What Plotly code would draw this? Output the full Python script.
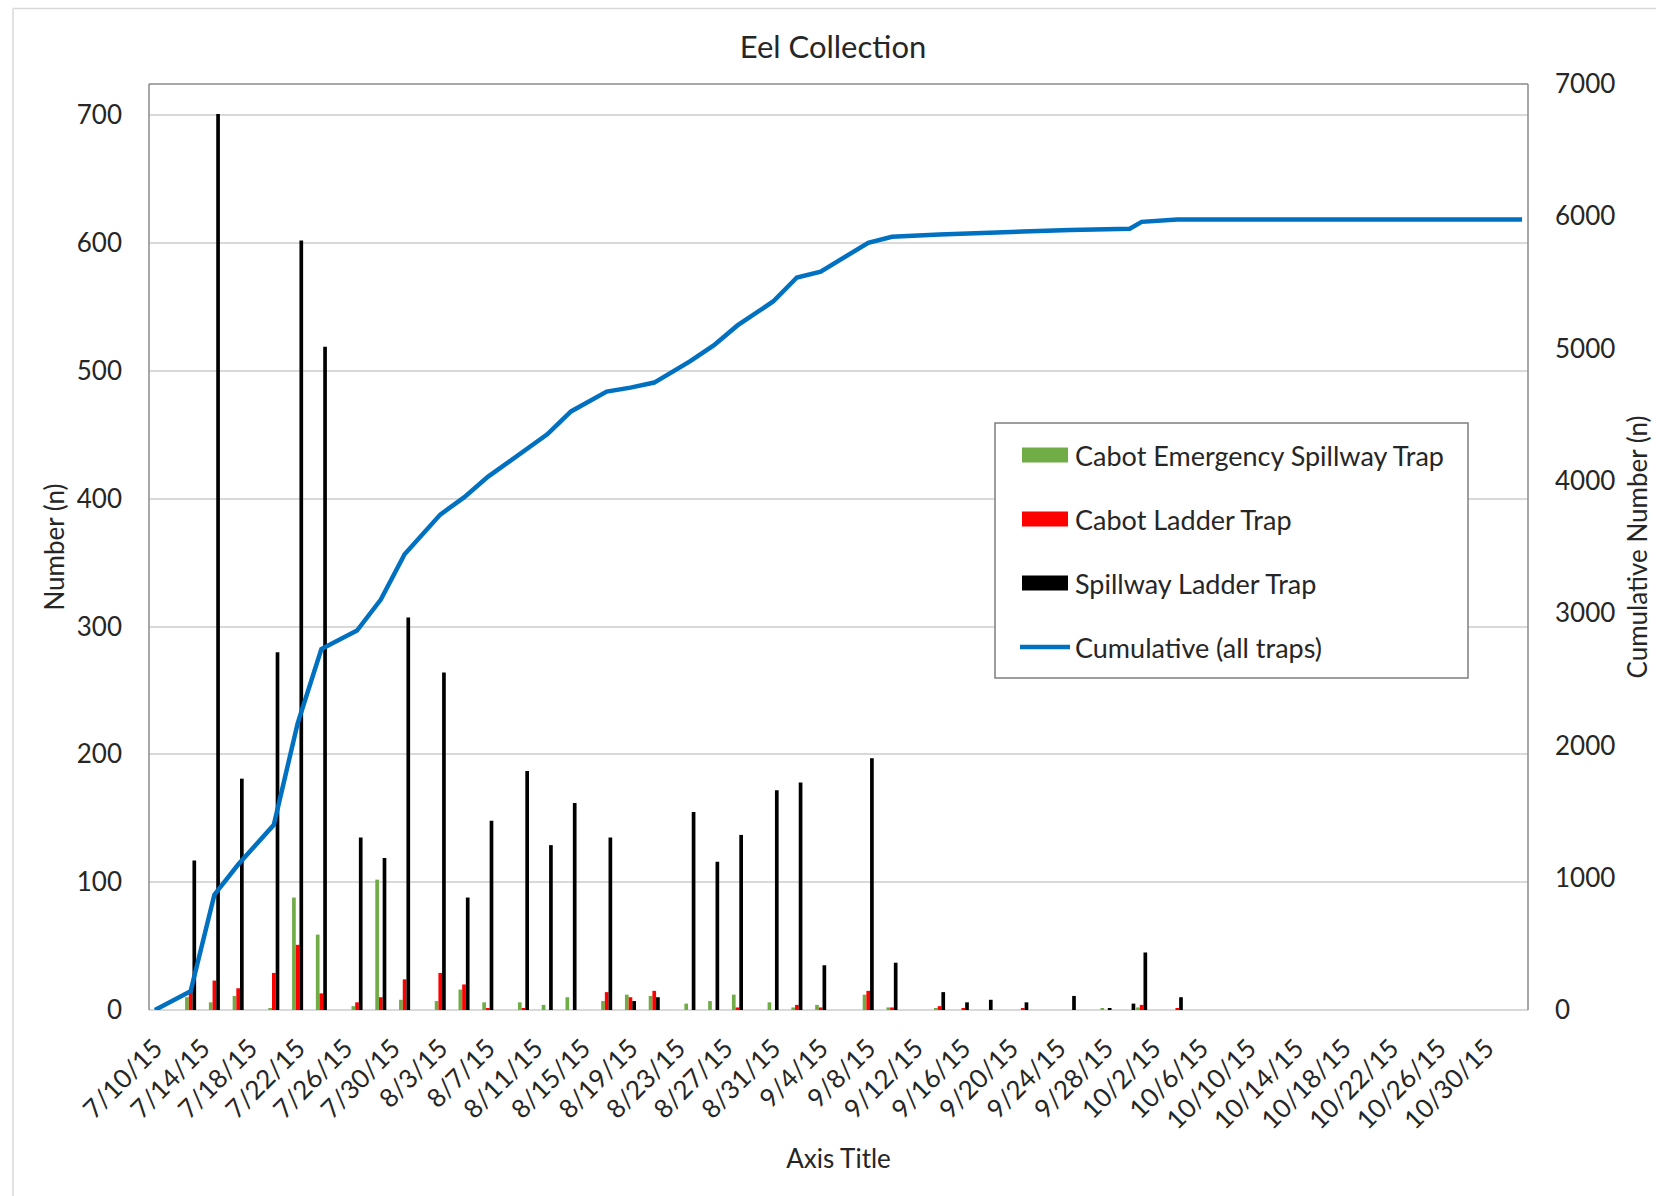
import plotly.graph_objects as go

# ---------------- data ----------------
dates = ["2015-07-10", "2015-07-13", "2015-07-15", "2015-07-17", "2015-07-20", "2015-07-22",
         "2015-07-24", "2015-07-27", "2015-07-29", "2015-07-31", "2015-08-03", "2015-08-05",
         "2015-08-07", "2015-08-10", "2015-08-12", "2015-08-14", "2015-08-17", "2015-08-19",
         "2015-08-21", "2015-08-24", "2015-08-26", "2015-08-28", "2015-08-31", "2015-09-02",
         "2015-09-04", "2015-09-08", "2015-09-10", "2015-09-14", "2015-09-16", "2015-09-18",
         "2015-09-21", "2015-09-25", "2015-09-28", "2015-09-30", "2015-10-01", "2015-10-04",
         "2015-11-02"]

cabot_emergency = [0, 10, 6, 11, 1, 88, 59, 3, 102, 8, 7, 16,
                   6, 6, 4, 10, 7, 12, 11, 5, 7, 12, 6, 2,
                   4, 12, 2, 1, 0, 0, 0, 0, 1, 0, 2, 0, None]
cabot_ladder = [0, 14, 23, 17, 29, 51, 13, 6, 10, 24, 29, 20,
                1, 1, 0, 0, 14, 10, 15, 0, 0, 2, 0, 4,
                2, 15, 2, 3, 1, 0, 1, 0, 0, 0, 4, 1, None]
spillway_ladder = [0, 117, 701, 181, 280, 602, 519, 135, 119, 307, 264, 88,
                   148, 187, 129, 162, 135, 7, 10, 155, 116, 137, 172, 178,
                   35, 197, 37, 14, 6, 8, 6, 11, 1, 5, 45, 10, None]
cumulative = [0, 141, 872, 1100, 1400, 2165, 2728, 2868, 3102, 3445, 3745, 3875,
              4030, 4225, 4352, 4525, 4675, 4705, 4743, 4903, 5024, 5175, 5356, 5537,
              5581, 5800, 5845, 5862, 5870, 5878, 5885, 5897, 5900, 5906, 5958, 5975,
              5975]

series_names = ["Cabot Emergency Spillway Trap", "Cabot Ladder Trap",
                "Spillway Ladder Trap", "Cumulative (all traps)"]
series_colors = ["#70AD47", "#FF0000", "#000000", "#0070C0"]

# ---------------- geometry ----------------
W, H = 1656, 1196
PL, PR, PT, PB = 149, 1528, 84, 1010   # plot area in pixels
FONT = "Lato"
TXT = "#262626"


def px(x):
    return (x - PL) / (PR - PL)


def py(y):
    return (PB - y) / (PB - PT)


fig = go.Figure()
for name, vals, col in zip(series_names[:3], [cabot_emergency, cabot_ladder, spillway_ladder],
                           series_colors[:3]):
    fig.add_trace(go.Bar(x=dates, y=vals, name=name, marker=dict(color=col, line=dict(width=0)),
                         showlegend=False))

fig.add_trace(go.Scatter(x=dates, y=cumulative, name=series_names[3], mode="lines",
                         line=dict(color=series_colors[3], width=4.5), yaxis="y2",
                         showlegend=False))

shapes = []
# plot-area border (left, top, right)
bc = "#8a8a8a"
for (x0, y0, x1, y1) in [(0, 0, 0, 1), (0, 1, 1, 1), (1, 1, 1, 0)]:
    shapes.append(dict(type="line", xref="paper", yref="paper", x0=x0, y0=y0, x1=x1, y1=y1,
                       line=dict(color=bc, width=1.5), layer="above"))
# outer chart border (top & left visible)
oc = "#d9d9d9"
shapes.append(dict(type="line", xref="paper", yref="paper", x0=px(13), y0=py(8.5), x1=px(W), y1=py(8.5),
                   line=dict(color=oc, width=1.5)))
shapes.append(dict(type="line", xref="paper", yref="paper", x0=px(13), y0=py(8.5), x1=px(13), y1=py(H),
                   line=dict(color=oc, width=1.5)))

# legend box
LX0, LX1, LY0, LY1 = 995, 1468, 423, 678
shapes.append(dict(type="rect", xref="paper", yref="paper", x0=px(LX0), x1=px(LX1), y0=py(LY1), y1=py(LY0),
                   line=dict(color="#7f7f7f", width=1.5), fillcolor="white", layer="above"))
rows = [455, 519, 583, 647]
annotations = []
for i, (name, col, ry) in enumerate(zip(series_names, series_colors, rows)):
    if i < 3:
        shapes.append(dict(type="rect", xref="paper", yref="paper", x0=px(1022), x1=px(1068),
                           y0=py(ry + 7.5), y1=py(ry - 7.5), line=dict(width=0), fillcolor=col,
                           layer="above"))
    else:
        shapes.append(dict(type="line", xref="paper", yref="paper", x0=px(1020), x1=px(1070),
                           y0=py(ry), y1=py(ry), line=dict(color=col, width=4.5), layer="above"))
    annotations.append(dict(xref="paper", yref="paper", x=px(1073), y=py(ry), text=name,
                            showarrow=False, xanchor="left", yanchor="middle",
                            font=dict(family=FONT, size=27, color=TXT)))

fig.update_layout(
    width=W, height=H,
    margin=dict(l=PL, r=W - PR, t=PT, b=H - PB, pad=0, autoexpand=False),
    paper_bgcolor="white", plot_bgcolor="white",
    font=dict(family=FONT, size=26, color=TXT),
    title=dict(text="Eel Collection", x=833 / W, xref="container", y=1 - 47.5 / H, yref="container",
               xanchor="center", yanchor="middle", font=dict(family=FONT, size=31, color=TXT)),
    barmode="group", bargap=0.07, bargroupgap=0,
    showlegend=False,
    xaxis=dict(type="date", range=["2015-07-09 12:00", "2015-11-02 12:00"],
               tickmode="linear", tick0="2015-07-10", dtick=4 * 86400000,
               tickformat="%-m/%-d/%y", tickangle=-45, ticks="", ticklabelstandoff=17,
               showgrid=False, zeroline=False, showline=False, automargin=False,
               tickfont=dict(family=FONT, size=26, color=TXT),
               title=dict(text="Axis Title", standoff=15, font=dict(family=FONT, size=26, color=TXT))),
    yaxis=dict(range=[0, 724.5], tickmode="linear", tick0=0, dtick=100,
               showgrid=True, gridcolor="#d9d9d9", gridwidth=1.5,
               zeroline=True, zerolinecolor="#d9d9d9", zerolinewidth=1.5,
               showline=False, ticks="", ticklabelstandoff=26, automargin=False,
               tickfont=dict(family=FONT, size=26, color=TXT),
               title=dict(text="Number (n)", standoff=4, font=dict(family=FONT, size=26, color=TXT))),
    yaxis2=dict(range=[0, 7000], tickmode="linear", tick0=0, dtick=1000, overlaying="y", side="right",
                showgrid=False, zeroline=False, showline=False, ticks="", ticklabelstandoff=26,
                automargin=False,
                tickfont=dict(family=FONT, size=26, color=TXT),
                title=dict(text="Cumulative Number (n)", standoff=14,
                           font=dict(family=FONT, size=26, color=TXT))),
    shapes=shapes,
    annotations=annotations,
)

fig.write_html("out.html", config={"displayModeBar": False},
               post_script="document.body.style.margin='0';")
